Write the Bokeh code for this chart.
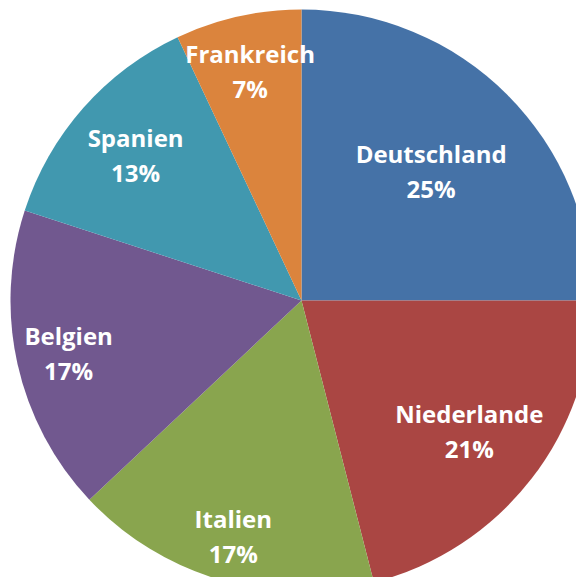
import math
from bokeh.plotting import figure
from bokeh.models import Range1d, ColumnDataSource
from bokeh.core.properties import value
from bokeh.embed import file_html
from bokeh.resources import INLINE

countries = ["Deutschland", "Niederlande", "Italien", "Belgien", "Spanien", "Frankreich"]
shares = [25, 21, 17, 17, 13, 7]
colors = ["#4572A7", "#AA4643", "#89A54E", "#71588F", "#4198AF", "#DB843D"]

W, H = 576, 577
cx, cy, R = 301, H - 300, 291
# radial distance of each label, as a fraction of the radius
label_r = [0.63, 0.73, 0.84, 0.82, 0.76, 0.81]

total = sum(shares)
starts, ends, lx, ly, pct = [], [], [], [], []
cum = 0.0
for v, f in zip(shares, label_r):
    a0 = math.pi / 2 - 2 * math.pi * cum / total
    cum += v
    a1 = math.pi / 2 - 2 * math.pi * cum / total
    starts.append(a0)
    ends.append(a1)
    mid = (a0 + a1) / 2
    lx.append(cx + f * R * math.cos(mid))
    ly.append(cy + f * R * math.sin(mid))
    pct.append(f"{v}%")

src = ColumnDataSource(dict(start=starts, end=ends, color=colors,
                            lx=lx, ly=ly, name=countries, pct=pct))

p = figure(width=W, height=H, output_backend="svg", toolbar_location=None,
           x_range=Range1d(0, W), y_range=Range1d(0, H), min_border=0)
p.axis.visible = False
p.grid.visible = False
p.outline_line_color = None
p.background_fill_color = "white"

p.wedge(x=cx, y=cy, radius=R, start_angle="start", end_angle="end",
        direction="clock", fill_color="color", line_color=None, source=src)

common = dict(text_color="white", text_font=value("Open Sans"), text_font_style="bold",
              text_font_size="24px", text_align="center", text_baseline="middle",
              source=src)
p.text(x="lx", y="ly", text="name", y_offset=-17, **common)
p.text(x="lx", y="ly", text="pct", y_offset=18, **common)

open("out.html", "w").write(file_html(p, INLINE))
